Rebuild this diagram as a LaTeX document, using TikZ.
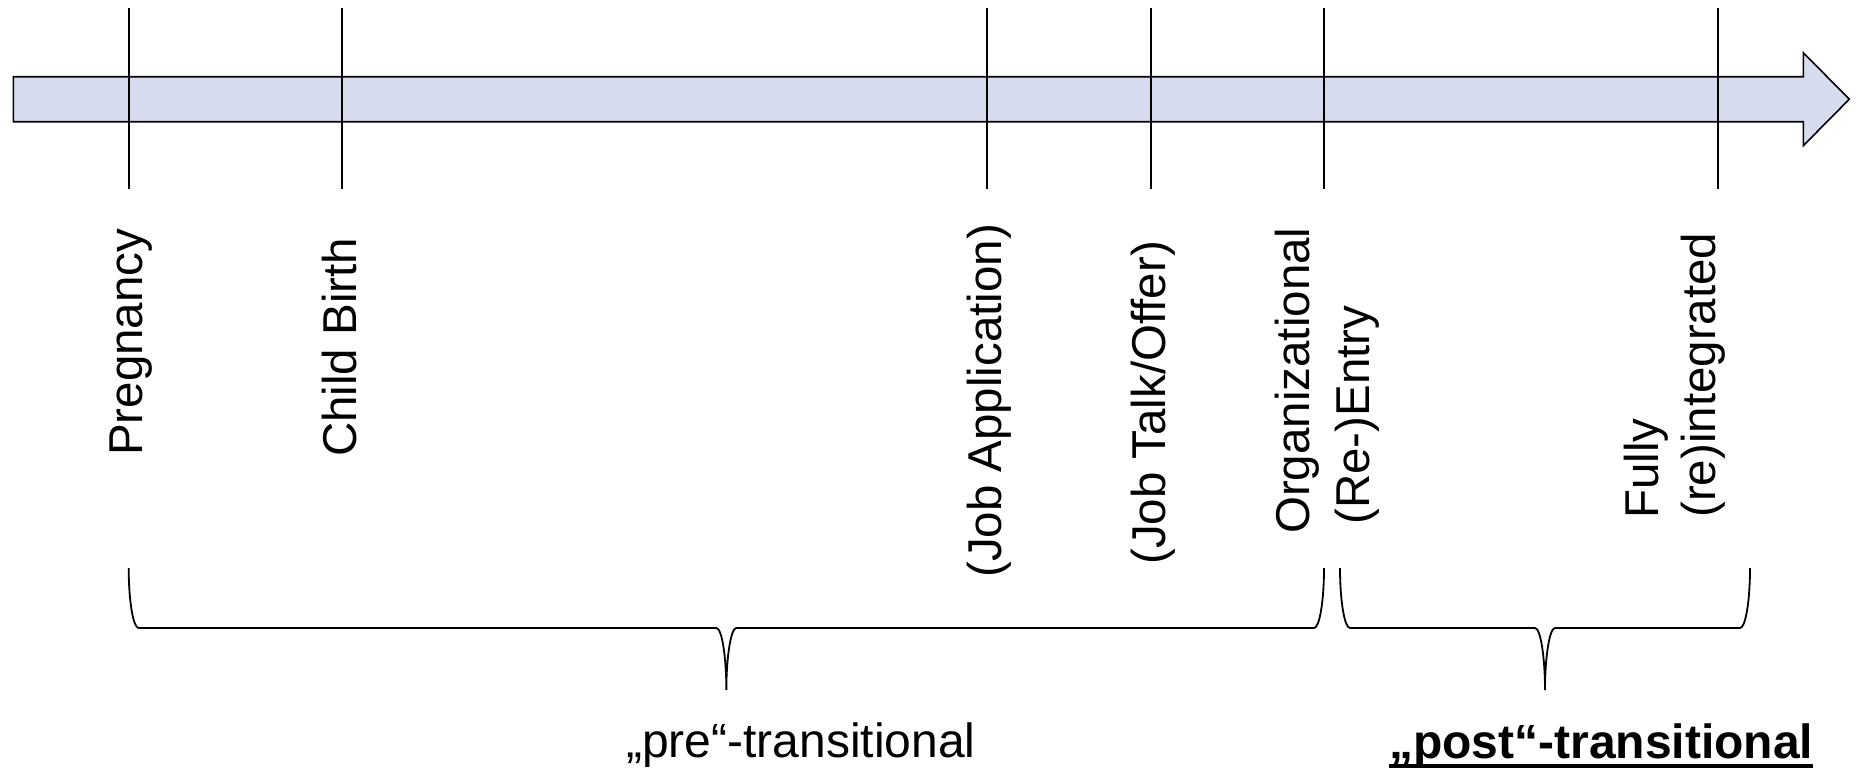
\documentclass[tikz,border=0pt]{standalone}
\usepackage{fontspec}
\setmainfont{Liberation Sans}
\definecolor{barfill}{RGB}{214,220,238}

\tikzset{
  timebar/.style={draw=black, line width=1.6pt, fill=barfill, line join=miter},
  tickline/.style={draw=black, line width=1.6pt},
  eventlabel/.style={rotate=90, anchor=base west, inner sep=0pt,
                     font=\fontsize{47.5}{57}\selectfont},
  phaselabel/.style={anchor=base west, inner sep=0pt,
                     font=\fontsize{48}{58}\selectfont},
  bracepath/.style={draw=black, line width=1.8pt}
}

% quarter-ellipse brace between two x positions, tip at the middle
\newcommand{\phasebrace}[3]{% left x, right x, name
  \coordinate (#3-l) at (#1,568);
  \coordinate (#3-r) at (#2,568);
  \coordinate (#3-tip) at ({(#1+#2)/2},690);
  \draw[bracepath] (#3-l)
     .. controls +(0,33) and +(-5.5,0) .. ++(10,60)
     -- ({(#1+#2)/2-10},628)
     .. controls +(5.5,0) and +(0,-33) .. (#3-tip)
     .. controls +(0,-33) and +(-5.5,0) .. ({(#1+#2)/2+10},628)
     -- ({#2-10},628)
     .. controls +(5.5,0) and +(0,33) .. (#3-r);
}

\begin{document}
\begin{tikzpicture}[x=1pt, y=-1pt]
  \useasboundingbox (0,0) rectangle (1858,772);

  % time axis drawn as a block arrow
  \draw[timebar] (13.3,76.7) -- (1803.3,76.7) -- (1803.3,52.7) -- (1849.3,99.2)
        -- (1803.3,145.7) -- (1803.3,121.7) -- (13.3,121.7) -- cycle;

  % event markers crossing the axis
  \foreach \name/\xx in {preg/128.7, birth/341.7, appl/987, talk/1151, entry/1324, integ/1717.7}{
    \coordinate (\name-top) at (\xx,8.3);
    \coordinate (\name-bot) at (\xx,189.3);
    \draw[tickline] (\name-top) -- (\name-bot);
  }

  % event labels
  \node[eventlabel] (lpreg)  at (142.7,456) {Pregnancy};
  \node[eventlabel] (lbirth) at (356,457)   {Child Birth};
  \node[eventlabel] (lappl)  at (1001.7,578) {(Job Application)};
  \node[eventlabel] (ltalk)  at (1165,565)  {(Job Talk/Offer)};
  \node[eventlabel] (lorg)   at (1309,534)  {Organizational};
  \node[eventlabel] (lre)    at (1369,525)  {(Re-)Entry};
  \node[eventlabel] (lfully) at (1658,519)  {Fully};
  \node[eventlabel] (lreint) at (1715,518)  {(re)integrated};

  % phase braces
  \phasebrace{128.7}{1324}{pre}
  \phasebrace{1340}{1750}{post}

  % phase labels
  \node[phaselabel] (prelabel) at (626,757) {„pre“-transitional};
  \node[phaselabel, font=\fontsize{48}{58}\selectfont\bfseries] (postlabel) at (1389,758) {„post“-transitional};
  \draw[line width=3.5pt] ([yshift=-8pt]postlabel.base west) -- ([yshift=-8pt]postlabel.base east);
\end{tikzpicture}
\end{document}
